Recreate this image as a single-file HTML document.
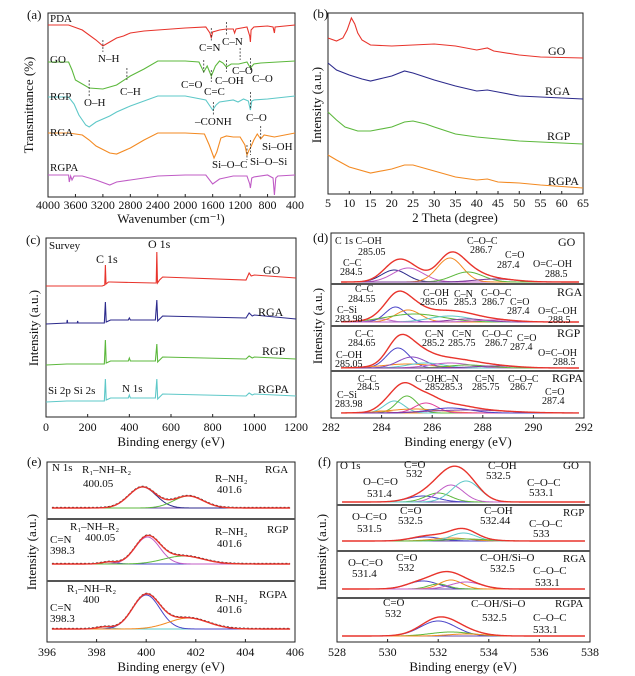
<!DOCTYPE html>
<html><head><meta charset="utf-8">
<style>
html,body{margin:0;padding:0;background:#fff;}
svg{display:block;font-family:"Liberation Serif",serif;}
</style></head>
<body>
<svg id="fig" width="635" height="676" viewBox="0 0 635 676" xmlns="http://www.w3.org/2000/svg"></svg>
<script>
// ---------- DATA ----------
const ftirPDA=[[4000,25],[3700,25],[3500,30],[3300,40],[3200,46],[3100,42],[3000,38],[2900,36],[2800,33],[2600,31],[2400,30],[2000,28],[1700,27],[1640,33],[1620,38],[1600,32],[1550,31],[1500,30],[1400,29],[1300,29],[1280,33],[1260,29],[1100,27],[1060,36],[1050,42],[1040,30],[1000,27],[800,26],[720,27],[700,33],[690,27],[400,25]];
const ftirGO=[[4000,62],[3700,62],[3650,70],[3600,80],[3400,88],[3200,89],[3000,85],[2800,76],[2600,69],[2400,61],[2000,61],[1800,62],[1730,72],[1680,66],[1620,76],[1560,66],[1500,61],[1450,63],[1400,67],[1330,64],[1220,64],[1100,62],[1050,68],[1000,64],[900,63],[400,61]];
const ftirRGP=[[4000,97],[3700,97],[3620,104],[3550,115],[3450,125],[3400,127],[3300,122],[3100,116],[3000,112],[2800,106],[2600,101],[2400,96],[2000,96],[1700,100],[1620,108],[1600,110],[1550,105],[1500,102],[1300,100],[1230,102],[1150,99],[1080,101],[1050,110],[1030,101],[1000,100],[800,99],[400,96]];
const ftirRGA=[[4000,133],[3700,133],[3500,135],[3400,140],[3300,146],[3100,153],[3000,154],[2800,148],[2600,140],[2400,133],[2000,133],[1720,134],[1650,145],[1580,158],[1540,152],[1480,138],[1400,136],[1300,137],[1200,137],[1130,145],[1100,155],[1070,150],[1050,148],[1000,140],[950,134],[900,139],[850,135],[700,137],[400,133]];
const ftirRGPA=[[4000,175],[3700,175],[3690,182],[3670,176],[3650,180],[3620,176],[3500,176],[3300,180],[3100,185],[3000,182],[2800,180],[2400,176],[2000,175],[1700,175],[1600,184],[1500,179],[1300,176],[1100,176],[1060,184],[1050,188],[1030,178],[1000,177],[800,175],[720,178],[700,195],[680,178],[650,176],[400,175]];
const ftirTicks=[4000,3600,3200,2800,2400,2000,1600,1200,800,400];

const xrdGO=[[5,38],[7,41],[8.5,38],[9.5,30],[10.5,18],[11.3,24],[12,33],[13,40],[15,45],[20,46],[25,45],[30,44],[35,46],[40,50],[42.5,48],[44,51],[50,55],[55,57],[60,57.5],[65,58]];
const xrdRGA=[[5,63],[7,70],[10,75],[13,79],[15,81],[18,78],[20,76],[23,71],[25,73],[30,80],[35,86],[40,91],[42.5,90],[45,92],[50,96],[55,97],[60,98],[65,99]];
const xrdRGP=[[5,112],[7,120],[9,127],[12,131],[15,131],[20,127],[23,122],[25,121],[28,124],[30,127],[35,134],[40,137],[45,139],[50,141],[55,142],[65,144]];
const xrdRGPA=[[5,155],[7,160],[10,167],[15,173],[20,169],[23,165],[25,165],[30,171],[35,177],[40,180],[42.5,179],[45,182],[50,183],[55,185],[65,188]];
const xrdTicks=[5,10,15,20,25,30,35,40,45,50,55,60,65];

const svGO=[[0,286],[270,286],[282,285],[285,265],[288,284],[300,282],[310,282],[520,283],[529,283],[532,252],[535,283],[545,280],[560,277],[960,280],[975,273],[985,276],[1000,275],[1200,278]];
const svRGA=[[0,324],[100,323],[102,320],[104,323],[150,323],[152,321],[154,323],[280,323],[285,302],[289,322],[310,320],[395,320],[400,318],[405,320],[525,320],[532,300],[536,321],[560,316],[960,318],[975,313],[990,316],[1000,315],[1200,319]];
const svRGP=[[0,365],[100,364],[150,364],[280,364],[285,340],[289,363],[310,361],[395,361],[400,358],[405,361],[525,361],[532,344],[536,362],[560,357],[960,359],[975,356],[990,358],[1000,357],[1200,359]];
const svRGPA=[[0,402],[100,401],[150,401],[280,401],[285,379],[289,400],[310,398],[395,398],[400,395],[405,398],[525,398],[532,379],[536,399],[560,394],[960,396],[975,393],[990,395],[1000,394],[1200,396]];
const svTicks=[0,200,400,600,800,1000,1200];

const c1sGOcenters=[284.5,285.05,286.7,287.4,288.5];
const c1sGOheights=[12,14,24,10,3];
const c1sGOwidths=[0.5,0.6,0.5,0.6,0.8];
const c1sRGAcenters=[283.98,284.55,285.05,285.3,286.7,287.4,288.5];
const c1sRGAheights=[3,15,12,8,6,3,2];
const c1sRGAwidths=[0.35,0.4,0.5,1.1,0.8,0.7,0.8];
const c1sRGPcenters=[284.65,285.05,285.2,285.75,286.7,287.4,288.5];
const c1sRGPheights=[20,4,11,5,5,3,2];
const c1sRGPwidths=[0.45,1.0,0.55,0.7,0.8,0.8,0.9];
const c1sRGPAcenters=[283.98,284.5,285,285.3,285.75,286.7,287.4];
const c1sRGPAheights=[2,12,17,4,10,5,3];
const c1sRGPAwidths=[0.3,0.4,0.4,1.0,0.45,0.8,1.5];
const c1sTicks=[282,284,286,288,290,292];

const n1sRGAcenters=[399.85,401.7];
const n1sRGAheights=[21,12];
const n1sRGAwidths=[0.55,0.6];
const n1sRGPcenters=[398.5,400.05,401.5];
const n1sRGPheights=[2,27,8];
const n1sRGPwidths=[0.3,0.5,0.8];
const n1sRGPAcenters=[398.3,400,401.7];
const n1sRGPAheights=[2,34,11];
const n1sRGPAwidths=[0.3,0.55,0.8];
const n1sTicks=[396,398,400,402,404,406];

const o1sGOcenters=[531.4,532,532.5,533.1];
const o1sGOheights=[6,9,17,21];
const o1sGOwidths=[0.6,0.5,0.5,0.55];
const o1sRGPcenters=[531.5,532.5,533.0,533.1];
const o1sRGPheights=[4,3,8,2];
const o1sRGPwidths=[0.6,0.7,0.5,0.8];
const o1sRGAcenters=[531.4,532,532.5,533.1];
const o1sRGAheights=[8,5,9,7];
const o1sRGAwidths=[0.6,0.4,0.45,0.6];
const o1sRGPAcenters=[532,532.5,533.1];
const o1sRGPAheights=[15,4,2];
const o1sRGPAwidths=[0.7,0.8,0.7];
const o1sTicks=[528,530,532,534,536,538];

// ---------- DRAWING ----------
const NS="http://www.w3.org/2000/svg";
const svg=document.getElementById('fig');
const RED="#e8342c",GRN="#5cb83c",CYN="#5ec8c8",ORG="#f38a22",MAG="#c05cc6",NAV="#2c2a8c",BLU="#4a44c8";

function mk(tag,attrs){const e=document.createElementNS(NS,tag);for(const k in attrs)e.setAttribute(k,attrs[k]);svg.appendChild(e);return e;}
function lin(d0,d1,r0,r1){return v=>r0+(v-d0)/(d1-d0)*(r1-r0);}

function line(pts,xs,ys,color,name,w){
  const d=pts.map((p,i)=>(i?'L':'M')+xs(p[0]).toFixed(2)+' '+ys(p[1]).toFixed(2)).join(' ');
  const e=mk('path',{d:d,fill:'none',stroke:color,'stroke-width':w||1.1});
  
  
  return e;
}
function txt(x,y,s,size,anchor,name,rot){
  const e=mk('text',{x:x,y:y,'font-size':size,'text-anchor':anchor||'start',fill:'#111'});
  if(rot)e.setAttribute('transform','rotate(-90 '+x+' '+y+')');
  e.textContent=s;
  
  
  return e;
}
function box(x0,y0,x1,y1,name){
  const e=mk('rect',{x:x0,y:y0,width:x1-x0,height:y1-y0,fill:'none',stroke:'#222','stroke-width':1});
  
  
}
function xticks(ticks,xs,yb,ylab,name){
  ticks.forEach(t=>{
    const l=mk('line',{x1:xs(t),x2:xs(t),y1:yb,y2:yb-3,stroke:'#222'});
    
    
    txt(xs(t),ylab,String(t),12,'middle',name+'-tick-label');
  });
}
function gauss(c,h,w,x){return h*Math.exp(-(x-c)*(x-c)/(2*w*w));}
function fit(centers,heights,widths,colors,xs,base,lo,hi,name,raw){
  const ys=v=>base-v;
  const step=(hi-lo)/300;
  const env=[];
  const bl=mk('line',{x1:xs(lo),x2:xs(hi),y1:base,y2:base,stroke:'#6a4aa8','stroke-width':1});
  
  
  centers.forEach((c,i)=>{
    const pts=[];
    for(let x=lo;x<=hi+1e-9;x+=step)pts.push([x,gauss(c,heights[i],widths[i],x)]);
    line(pts,xs,ys,colors[i%colors.length],name+'-component-'+c,1);
  });
  for(let x=lo;x<=hi+1e-9;x+=step){let s=0;centers.forEach((c,i)=>s+=gauss(c,heights[i],widths[i],x));env.push([x,s]);}
  if(raw){
    const dpts=env.map(p=>[p[0],p[1]+0.6]);
    const dd=line(dpts,xs,ys,'#222',name+'-raw-data',1);dd.setAttribute('stroke-dasharray','2 2');
  }
  line(env,xs,ys,RED,name+'-envelope',1.4);
}
const ident=v=>v;

// ===== (a) FTIR =====
const xA=lin(4000,400,48,295);
box(48,13,295,197,'panel-a-frame');
line(ftirPDA,xA,ident,RED,'ftir-pda');
line(ftirGO,xA,ident,GRN,'ftir-go');
line(ftirRGP,xA,ident,CYN,'ftir-rgp');
line(ftirRGA,xA,ident,ORG,'ftir-rga');
line(ftirRGPA,xA,ident,MAG,'ftir-rgpa');
xticks(ftirTicks,xA,197,209,'ftir-x');
txt(171,223,'Wavenumber (cm⁻¹)',13,'middle','ftir-x-title');
txt(33,105,'Transmittance (%)',13,'middle','ftir-y-title',true);
const aLabels=[[27,19,'(a)',13],[50,22,'PDA',11],[50,63,'GO',11],[50,100,'RGP',11],[50,136,'RGA',11],[50,171,'RGPA',11],
[98,62,'N–H',11],[199,51,'C=N',11],[222,45,'C–N',11],[120,95,'C–H',11],[84,106,'O–H',11],[181,88,'C=O',11],[204,95,'C=C',11],[215,84,'C–OH',11],[232,74,'C–O',11],[252,82,'C–O',11],[195,125,'–CONH',11],[246,121,'C–O',11],[262,150,'Si–OH',11],[212,168,'Si–O–C',11],[250,165,'Si–O–Si',11]];
aLabels.forEach(l=>txt(l[0],l[1],l[2],l[3],'start','ftir-annotation'));
const aMarks=[[3200,40,52],[1620,28,42],[1400,22,36],[3400,80,97],[2850,68,80],[1730,60,74],[1620,70,82],[1400,60,72],[1200,48,60],[1050,58,70],[1590,102,115],[1050,92,108],[1100,145,160],[1050,140,155],[900,126,140]];
aMarks.forEach(m=>{const l=mk('line',{x1:xA(m[0]),x2:xA(m[0]),y1:m[1],y2:m[2],stroke:'#333','stroke-dasharray':'2 1.5','stroke-width':0.8});

});

// ===== (b) XRD =====
const xB=lin(5,65,328,583);
box(328,13,583,194,'panel-b-frame');
line(xrdGO,xB,ident,RED,'xrd-go');
line(xrdRGA,xB,ident,NAV,'xrd-rga');
line(xrdRGP,xB,ident,GRN,'xrd-rgp');
line(xrdRGPA,xB,ident,ORG,'xrd-rgpa');
xticks(xrdTicks,xB,194,207,'xrd-x');
txt(455,222,'2 Theta (degree)',13,'middle','xrd-x-title');
txt(321,105,'Intensity (a.u.)',13,'middle','xrd-y-title',true);
[[313,18,'(b)',13],[548,55,'GO',12],[545,95,'RGA',12],[547,140,'RGP',12],[548,185,'RGPA',12]].forEach(l=>txt(l[0],l[1],l[2],l[3],'start','xrd-label'));

// ===== (c) Survey =====
const xC=lin(0,1200,46,296);
box(46,238,296,417,'panel-c-frame');
line(svGO,xC,ident,RED,'survey-go');
line(svRGA,xC,ident,NAV,'survey-rga');
line(svRGP,xC,ident,GRN,'survey-rgp');
line(svRGPA,xC,ident,CYN,'survey-rgpa');
xticks(svTicks,xC,417,431,'survey-x');
txt(171,446,'Binding energy (eV)',13,'middle','survey-x-title');
txt(38,328,'Intensity (a.u.)',13,'middle','survey-y-title',true);
[[26,244,'(c)',13],[49,249,'Survey',11],[96,263,'C 1s',12],[148,248,'O 1s',12],[263,274,'GO',12],[258,316,'RGA',12],[262,355,'RGP',12],[258,393,'RGPA',12],[48,394,'Si 2p Si 2s',11],[122,392,'N 1s',11]].forEach(l=>txt(l[0],l[1],l[2],l[3],'start','survey-label'));

// ===== (d) C1s =====
const xD=lin(282,292,331,584);
box(331,233,584,418,'panel-d-frame');
[284,326,371].forEach(y=>{const l=mk('line',{x1:331,x2:584,y1:y,y2:y,stroke:'#555','stroke-width':2});});
fit(c1sGOcenters,c1sGOheights,c1sGOwidths,[NAV,MAG,ORG,GRN,'#7a3a9a'],xD,282,282.4,291.8,'c1s-go',false);
fit(c1sRGAcenters,c1sRGAheights,c1sRGAwidths,[MAG,BLU,ORG,GRN,CYN,'#8a3aa0',MAG],xD,322,282.4,291.8,'c1s-rga',false);
fit(c1sRGPcenters,c1sRGPheights,c1sRGPwidths,[BLU,ORG,'#8a4ac0',CYN,MAG,GRN,'#7a3a9a'],xD,368,282.4,291.8,'c1s-rgp',false);
fit(c1sRGPAcenters,c1sRGPAheights,c1sRGPAwidths,[ORG,CYN,GRN,ORG,'#e0409a',BLU,'#8a3aa0'],xD,413,282.4,291.8,'c1s-rgpa',false);
xticks(c1sTicks,xD,418,431,'c1s-x');
txt(458,446,'Binding energy (eV)',13,'middle','c1s-x-title');
txt(322,326,'Intensity (a.u.)',13,'middle','c1s-y-title',true);
const dLabels=[[313,242,'(d)',13],[335,244,'C 1s C–OH'],[358,255,'285.05'],[343,266,'C–C'],[340,275,'284.5'],[467,244,'C–O–C'],[470,253,'286.7'],[505,258,'C=O'],[497,268,'287.4'],[533,267,'O=C–OH'],[545,277,'288.5'],[558,246,'GO',12],
[355,292,'C–C'],[348,302,'284.55'],[337,313,'C–Si'],[335,322,'283.98'],[423,296,'C–OH'],[420,305,'285.05'],[454,297,'C–N'],[454,305,'285.3'],[481,296,'C–O–C'],[482,305,'286.7'],[510,305,'C=O'],[507,314,'287.4'],[538,314,'O=C–OH'],[548,323,'288.5'],[557,296,'RGA',12],
[355,337,'C–C'],[348,346,'284.65'],[336,358,'C–OH'],[335,367,'285.05'],[425,337,'C–N'],[422,346,'285.2'],[452,337,'C=N'],[448,346,'285.75'],[482,337,'C–O–C'],[485,346,'286.7'],[517,341,'C=O'],[510,350,'287.4'],[538,356,'O=C–OH'],[553,365,'288.5'],[557,337,'RGP',12],
[358,382,'C–C'],[357,390,'284.5'],[337,398,'C–Si'],[335,407,'283.98'],[415,382,'C–OH'],[425,390,'285'],[440,382,'C–N'],[440,390,'285.3'],[475,382,'C=N'],[472,390,'285.75'],[508,382,'C–O–C'],[510,390,'286.7'],[545,395,'C=O'],[542,404,'287.4'],[552,382,'RGPA',12]];
dLabels.forEach(l=>txt(l[0],l[1],l[2],l[3]||10,'start','c1s-label'));

// ===== (e) N1s =====
const xE=lin(396,406,47,295);
box(47,462,295,642,'panel-e-frame');
[519,581].forEach(y=>{const l=mk('line',{x1:47,x2:295,y1:y,y2:y,stroke:'#555','stroke-width':2});});
fit(n1sRGAcenters,n1sRGAheights,n1sRGAwidths,[NAV,GRN],xE,508,396.2,405.8,'n1s-rga',true);
fit(n1sRGPcenters,n1sRGPheights,n1sRGPwidths,[BLU,MAG,GRN],xE,564,396.2,405.8,'n1s-rgp',true);
fit(n1sRGPAcenters,n1sRGPAheights,n1sRGPAwidths,[CYN,BLU,ORG],xE,629,396.2,405.8,'n1s-rgpa',true);
xticks(n1sTicks,xE,642,656,'n1s-x');
txt(171,671,'Binding energy (eV)',13,'middle','n1s-x-title');
txt(36,552,'Intensity (a.u.)',13,'middle','n1s-y-title',true);
const eLabels=[[27,466,'(e)',13],[52,471,'N 1s'],[82,473,'R₁–NH–R₂'],[83,487,'400.05'],[215,482,'R–NH₂'],[217,493,'401.6'],[265,473,'RGA'],
[70,530,'R₁–NH–R₂'],[85,541,'400.05'],[50,543,'C=N'],[50,554,'398.3'],[215,535,'R–NH₂'],[217,547,'401.6'],[267,533,'RGP'],
[67,592,'R₁–NH–R₂'],[83,603,'400'],[50,611,'C=N'],[50,622,'398.3'],[215,602,'R–NH₂'],[217,613,'401.6'],[259,598,'RGPA']];
eLabels.forEach(l=>txt(l[0],l[1],l[2],l[3]||11,'start','n1s-label'));

// ===== (f) O1s =====
const xF=lin(528,538,337,590);
box(337,462,590,642,'panel-f-frame');
[505,551,598].forEach(y=>{const l=mk('line',{x1:337,x2:590,y1:y,y2:y,stroke:'#555','stroke-width':2});});
fit(o1sGOcenters,o1sGOheights,o1sGOwidths,[BLU,GRN,MAG,CYN],xF,502,528.2,537.8,'o1s-go',false);
fit(o1sRGPcenters,o1sRGPheights,o1sRGPwidths,[BLU,ORG,CYN,GRN],xF,541,528.2,537.8,'o1s-rgp',false);
fit(o1sRGAcenters,o1sRGAheights,o1sRGAwidths,[BLU,GRN,ORG,MAG],xF,589,528.2,537.8,'o1s-rga',false);
fit(o1sRGPAcenters,o1sRGPAheights,o1sRGPAwidths,[BLU,GRN,ORG],xF,636,528.2,537.8,'o1s-rgpa',false);
xticks(o1sTicks,xF,642,656,'o1s-x');
txt(463,671,'Binding energy (eV)',13,'middle','o1s-x-title');
txt(326,552,'Intensity (a.u.)',13,'middle','o1s-y-title',true);
const fLabels=[[318,466,'(f)',13],[340,469,'O 1s'],[404,468,'C=O'],[406,477,'532'],[488,469,'C–OH'],[486,479,'532.5'],[363,485,'O–C=O'],[367,497,'531.4'],[527,486,'C–O–C'],[529,496,'533.1'],[563,469,'GO'],
[400,514,'C=O'],[398,524,'532.5'],[352,520,'O–C=O'],[357,532,'531.5'],[484,514,'C–OH'],[480,524,'532.44'],[529,527,'C–O–C'],[533,537,'533'],[563,516,'RGP'],
[396,561,'C=O'],[398,571,'532'],[348,566,'O–C=O'],[352,577,'531.4'],[480,561,'C–OH/Si–O'],[490,572,'532.5'],[533,574,'C–O–C'],[535,586,'533.1'],[563,562,'RGA'],
[383,606,'C=O'],[385,617,'532'],[471,607,'C–OH/Si–O'],[482,621,'532.5'],[533,621,'C–O–C'],[533,633,'533.1'],[555,607,'RGPA']];
fLabels.forEach(l=>txt(l[0],l[1],l[2],l[3]||11,'start','o1s-label'));
</script>
</body></html>
